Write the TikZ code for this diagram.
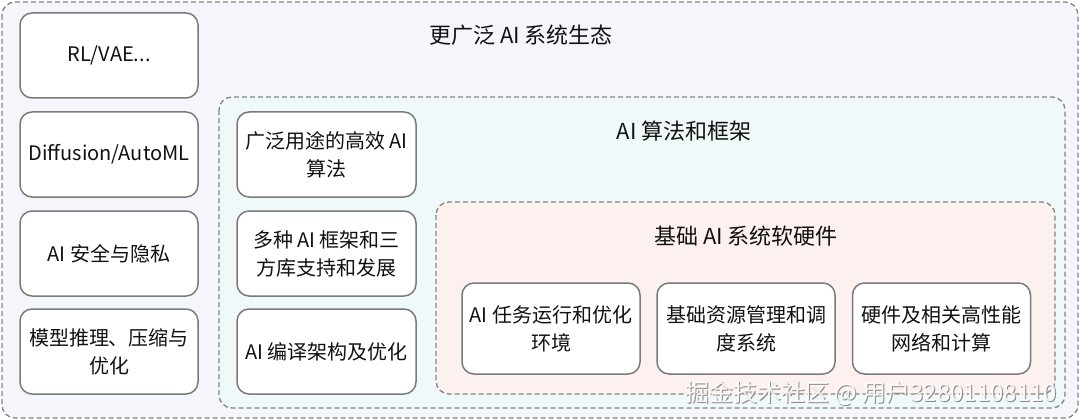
\documentclass[tikz,border=0pt]{standalone}
\usepackage{fontspec}
\setmainfont{Noto Sans CJK SC}
\definecolor{dashgray}{HTML}{858585}
\definecolor{boxgray}{HTML}{7A7A7A}
\definecolor{outerfill}{HTML}{F5F6FC}
\definecolor{midfill}{HTML}{F0F9F9}
\definecolor{innerfill}{HTML}{FCF1EF}
\definecolor{txt}{HTML}{111111}
\definecolor{wmgray}{HTML}{8C8C8C}
\begin{document}
\begin{tikzpicture}[x=1pt,y=-1pt,
  container/.style={draw=dashgray, dash pattern=on 5pt off 3pt, line width=1.3pt, rounded corners=13pt},
  item/.style={draw=boxgray, line width=1.5pt, fill=white, rounded corners=12pt,
    minimum width=178pt, minimum height=85pt, align=center, text=txt,
    font=\fontsize{20}{28}\selectfont, inner sep=1pt},
  title/.style={text=txt, font=\fontsize{22}{26}\selectfont},
  wm/.style={font=\fontsize{24}{28}\selectfont},
]
\useasboundingbox (0,0) rectangle (1080,420);
\fill[white] (0,0) rectangle (1080,420);
% containers
\draw[container, fill=outerfill] (2,2) rectangle (1078,418);
\draw[container, fill=midfill] (219,97) rectangle (1065,408);
\draw[container, fill=innerfill] (436,202) rectangle (1055,394);
% titles
\node[title] (t1) at (521,35) {更广泛 AI 系统生态};
\node[title] (t2) at (684,131) {AI 算法和框架};
\node[title] (t3) at (746,236) {基础 AI 系统软硬件};
% left column
\node[item] (l1) at (109,55.5) {RL/VAE...};
\node[item] (l2) at (109,154.5) {Diffusion/AutoML};
\node[item] (l3) at (109,253.5) {AI 安全与隐私};
\node[item] (l4) at (109,351.5) {模型推理、压缩与\\优化};
% middle column
\node[item, minimum width=179pt] (m1) at (326.5,154.5) {广泛用途的高效 AI\\算法};
\node[item, minimum width=179pt] (m2) at (326.5,253.5) {多种 AI 框架和三\\方库支持和发展};
\node[item, minimum width=179pt] (m3) at (326.5,351.5) {AI 编译架构及优化};
% inner row
\node[item, minimum height=91pt] (i1) at (551,328.5) {AI 任务运行和优化\\环境};
\node[item, minimum height=91pt] (i2) at (746,328.5) {基础资源管理和调\\度系统};
\node[item, minimum height=91pt] (i3) at (941.5,328.5) {硬件及相关高性能\\网络和计算};
% watermark
\node[wm, text=wmgray] (wmshadow) at (872,394.2) {掘金技术社区 @ 用户32801108110};
\node[wm, text=white, opacity=0.9] (wmtext) at (871,393) {掘金技术社区 @ 用户32801108110};
\end{tikzpicture}
\end{document}
